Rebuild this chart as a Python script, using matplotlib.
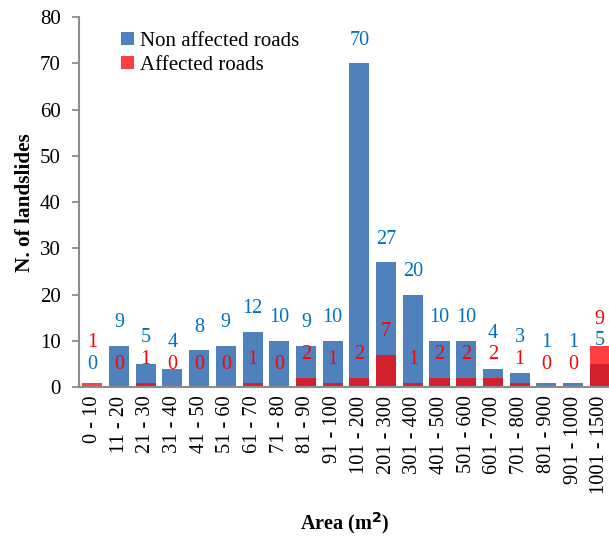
import matplotlib
matplotlib.use("Agg")
import matplotlib.pyplot as plt
import numpy as np

plt.rcParams['font.family'] = ['Liberation Serif', 'DejaVu Serif']

categories = ['0 - 10', '11 - 20', '21 - 30', '31 - 40', '41 - 50', '51 - 60',
              '61 - 70', '71 - 80', '81 - 90', '91 - 100', '101 - 200', '201 - 300',
              '301 - 400', '401 - 500', '501 - 600', '601 - 700', '701 - 800',
              '801 - 900', '901 - 1000', '1001 - 1500']
non_affected = [0, 9, 5, 4, 8, 9, 12, 10, 9, 10, 70, 27, 20, 10, 10, 4, 3, 1, 1, 5]
affected = [1, 0, 1, 0, 0, 0, 1, 0, 2, 1, 2, 7, 1, 2, 2, 2, 1, 0, 0, 9]

blue = '#4F81BD'
blue_txt = '#0070C0'
red_txt = '#FF0000'
axis_gray = '#8C8C8C'

fig = plt.figure(figsize=(6.09, 5.37), dpi=100)
ax = fig.add_axes([0.1297, 0.279, 0.877, 0.689])

x = np.arange(len(categories))
ax.bar(x, non_affected, width=0.75, color=blue, label='Non affected roads')
ax.bar(x, affected, width=0.75, color='#FF0000', alpha=0.75, label='Affected roads')

# value labels, stacked when the two numbers would overlap
for i in x:
    b, r = non_affected[i], affected[i]
    if b <= r:
        yb = b + 5
        yr = max(r + 5, yb + 4.7)
    else:
        yr = r + 5
        yb = max(b + 5, yr + 4.7)
    ax.text(i, yb, str(b), ha='center', va='center', color=blue_txt, fontsize=14.5)
    ax.text(i, yr, str(r), ha='center', va='center', color=red_txt, fontsize=14.5)

ax.set_xlim(-0.5, len(categories) - 0.5)
ax.set_ylim(0, 80)
ax.set_yticks(range(0, 81, 10))
ax.set_xticks(x)
ax.set_xticklabels(categories, rotation=90, ha='center', va='top', fontsize=14.7)
ax.tick_params(axis='y', labelsize=15, length=5, width=1.3, color=axis_gray, pad=8)
ax.tick_params(axis='x', length=0, pad=6)

for s in ['top', 'right']:
    ax.spines[s].set_visible(False)
for s in ['left', 'bottom']:
    ax.spines[s].set_color(axis_gray)
    ax.spines[s].set_linewidth(1.5)

ax.set_ylabel('N. of landslides', fontsize=15.3, fontweight='bold', labelpad=4)
fig.text(0.566, 0.026, 'Area (m$^\\mathbf{2}$)', ha='center', va='center',
         fontsize=14.5, fontweight='bold')

ax.legend(loc='upper left', bbox_to_anchor=(0.052, 1.0), frameon=False, fontsize=15,
          handlelength=0.6, handleheight=0.6, handletextpad=0.3, labelspacing=0.25,
          borderaxespad=0.3)

fig.savefig('out.png', dpi=100)
